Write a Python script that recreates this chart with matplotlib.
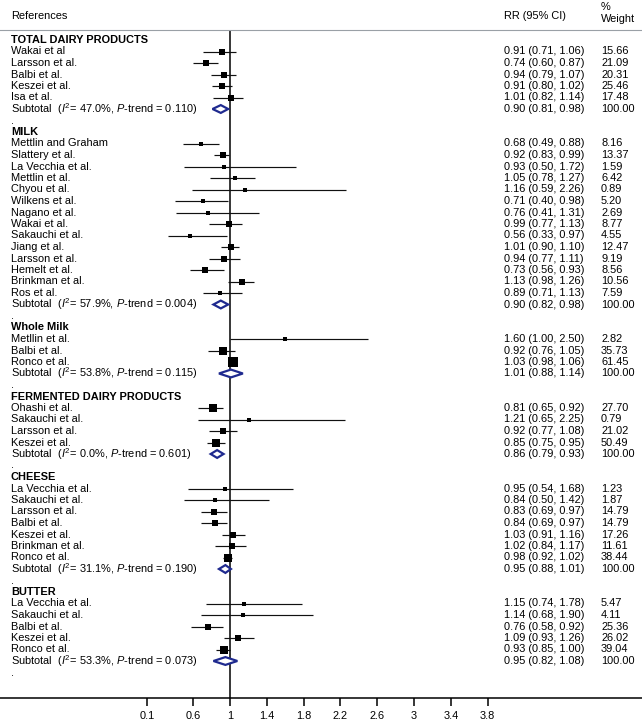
import matplotlib
matplotlib.use("Agg")
import matplotlib.pyplot as plt
from matplotlib.patches import Polygon
import matplotlib.transforms as mtransforms

plt.rcParams['font.family'] = ['Liberation Sans', 'DejaVu Sans']
plt.rcParams['mathtext.fontset'] = 'custom'
plt.rcParams['mathtext.rm'] = 'Liberation Sans'
plt.rcParams['mathtext.it'] = 'Liberation Sans:italic'
plt.rcParams['mathtext.bf'] = 'Liberation Sans:bold'

# ---------------- data ----------------
group_names = ["TOTAL DAIRY PRODUCTS", "MILK", "Whole Milk",
               "FERMENTED DAIRY PRODUCTS", "CHEESE", "BUTTER"]

total_studies = ["Wakai et al", "Larsson et al.", "Balbi et al.", "Keszei et al.", "Isa et al."]
total_rr = [0.91, 0.74, 0.94, 0.91, 1.01]
total_lo = [0.71, 0.60, 0.79, 0.80, 0.82]
total_hi = [1.06, 0.87, 1.07, 1.02, 1.14]
total_w = [15.66, 21.09, 20.31, 25.46, 17.48]

milk_studies = ["Mettlin and Graham", "Slattery et al.", "La Vecchia et al.", "Mettlin et al.",
                "Chyou et al.", "Wilkens et al.", "Nagano et al.", "Wakai et al.", "Sakauchi et al.",
                "Jiang et al.", "Larsson et al.", "Hemelt et al.", "Brinkman et al.", "Ros et al."]
milk_rr = [0.68, 0.92, 0.93, 1.05, 1.16, 0.71, 0.76, 0.99, 0.56, 1.01, 0.94, 0.73, 1.13, 0.89]
milk_lo = [0.49, 0.83, 0.50, 0.78, 0.59, 0.40, 0.41, 0.77, 0.33, 0.90, 0.77, 0.56, 0.98, 0.71]
milk_hi = [0.88, 0.99, 1.72, 1.27, 2.26, 0.98, 1.31, 1.13, 0.97, 1.10, 1.11, 0.93, 1.26, 1.13]
milk_w = [8.16, 13.37, 1.59, 6.42, 0.89, 5.20, 2.69, 8.77, 4.55, 12.47, 9.19, 8.56, 10.56, 7.59]

whole_studies = ["Metllin et al.", "Balbi et al.", "Ronco et al."]
whole_rr = [1.60, 0.92, 1.03]
whole_lo = [1.00, 0.76, 0.98]
whole_hi = [2.50, 1.05, 1.06]
whole_w = [2.82, 35.73, 61.45]

ferm_studies = ["Ohashi et al.", "Sakauchi et al.", "Larsson et al.", "Keszei et al."]
ferm_rr = [0.81, 1.21, 0.92, 0.85]
ferm_lo = [0.65, 0.65, 0.77, 0.75]
ferm_hi = [0.92, 2.25, 1.08, 0.95]
ferm_w = [27.70, 0.79, 21.02, 50.49]

cheese_studies = ["La Vecchia et al.", "Sakauchi et al.", "Larsson et al.", "Balbi et al.",
                  "Keszei et al.", "Brinkman et al.", "Ronco et al."]
cheese_rr = [0.95, 0.84, 0.83, 0.84, 1.03, 1.02, 0.98]
cheese_lo = [0.54, 0.50, 0.69, 0.69, 0.91, 0.84, 0.92]
cheese_hi = [1.68, 1.42, 0.97, 0.97, 1.16, 1.17, 1.02]
cheese_w = [1.23, 1.87, 14.79, 14.79, 17.26, 11.61, 38.44]

butter_studies = ["La Vecchia et al.", "Sakauchi et al.", "Balbi et al.", "Keszei et al.", "Ronco et al."]
butter_rr = [1.15, 1.14, 0.76, 1.09, 0.93]
butter_lo = [0.74, 0.68, 0.58, 0.93, 0.85]
butter_hi = [1.78, 1.90, 0.92, 1.26, 1.00]
butter_w = [5.47, 4.11, 25.36, 26.02, 39.04]

sub_rr = [0.90, 0.90, 1.01, 0.86, 0.95, 0.95]
sub_lo = [0.81, 0.82, 0.88, 0.79, 0.88, 0.82]
sub_hi = [0.98, 0.98, 1.14, 0.93, 1.01, 1.08]
sub_i2 = ["47.0", "57.9", "53.8", "0.0", "31.1", "53.3"]
sub_p = ["0.110", "0.004", "0.115", "0.601", "0.190", "0.073"]

xtick_vals = [0.1, 0.6, 1, 1.4, 1.8, 2.2, 2.6, 3, 3.4, 3.8]
xtick_labels = ["0.1", "0.6", "1", "1.4", "1.8", "2.2", "2.6", "3", "3.4", "3.8"]

groups = [
    (total_studies, total_rr, total_lo, total_hi, total_w),
    (milk_studies, milk_rr, milk_lo, milk_hi, milk_w),
    (whole_studies, whole_rr, whole_lo, whole_hi, whole_w),
    (ferm_studies, ferm_rr, ferm_lo, ferm_hi, ferm_w),
    (cheese_studies, cheese_rr, cheese_lo, cheese_hi, cheese_w),
    (butter_studies, butter_rr, butter_lo, butter_hi, butter_w),
]

# ---------------- layout ----------------
W, H = 642, 723
fig = plt.figure(figsize=(W / 100, H / 100), dpi=100)
top_px, bot_px = 30, 698
ax = fig.add_axes([0, (H - bot_px) / H, 1, (bot_px - top_px) / H])

x_one_px, px_per_unit = 230, 92.0
ax.set_xlim(1 - x_one_px / px_per_unit, 1 + (W - x_one_px) / px_per_unit)
row0_px, row_h = 40, 11.5
r_top = 1 + (top_px - row0_px) / row_h
r_bot = 1 + (bot_px - row0_px) / row_h
ax.set_ylim(r_bot, r_top)

trans = mtransforms.blended_transform_factory(ax.transAxes, ax.transData)
x_lab = 11 / W
x_rr = 504 / W
x_w = 601 / W
fs = 7.9
navy = '#1f2a8f'

def put(x, y, s, **kw):
    ax.text(x, y, s, transform=trans, fontsize=fs, va='center', ha='left',
            clip_on=False, **kw)

def row_of(px):
    return 1 + (px - row0_px) / row_h

# headers
put(x_lab, row_of(16), "References")
put(x_rr, row_of(16), "RR (95% CI)")
put(x_w, row_of(19), "Weight")
put(x_w, row_of(7), "%")

r = 1
for gi, (names, rr, lo, hi, w) in enumerate(groups):
    put(x_lab, r, group_names[gi], fontweight='bold')
    r += 1
    for n, e, l, h, wt in zip(names, rr, lo, hi, w):
        put(x_lab, r, n)
        ax.plot([l, h], [r, r], color='#111111', lw=0.85, solid_capstyle='butt', zorder=2)
        side_px = 2.4 + 0.9 * wt ** 0.5
        ax.plot([e], [r], marker='s', color='black', markersize=side_px * 0.72,
                markeredgewidth=0, linestyle='none', zorder=3)
        put(x_rr, r, f"{e:.2f} ({l:.2f}, {h:.2f})")
        put(x_w, r, f"{wt:.2f}")
        r += 1
    # subtotal
    put(x_lab, r, "Subtotal  ($I^2$= " + sub_i2[gi] + "%, $P$-trend = " + sub_p[gi] + ")")
    dh = 0.34
    e, l, h = sub_rr[gi], sub_lo[gi], sub_hi[gi]
    ax.add_patch(Polygon([(l, r), (e, r - dh), (h, r), (e, r + dh)], closed=True,
                         facecolor='white', edgecolor=navy, lw=1.6, zorder=4))
    put(x_rr, r, f"{e:.2f} ({l:.2f}, {h:.2f})")
    put(x_w, r, "100.00")
    r += 1
    put(x_lab, r, ".")
    r += 1

ax.axvline(1, color='black', lw=1.1, zorder=1)

for s in ['left', 'right']:
    ax.spines[s].set_visible(False)
ax.spines['bottom'].set_linewidth(1.1)
ax.spines['top'].set_color('#9aa0a6')
ax.spines['top'].set_linewidth(0.8)
ax.set_yticks([])
ax.set_xticks(xtick_vals)
ax.set_xticklabels(xtick_labels)
ax.tick_params(axis='x', direction='out', length=5.8, width=1.1, pad=3.5, labelsize=fs)

fig.savefig("out.png", dpi=100)
